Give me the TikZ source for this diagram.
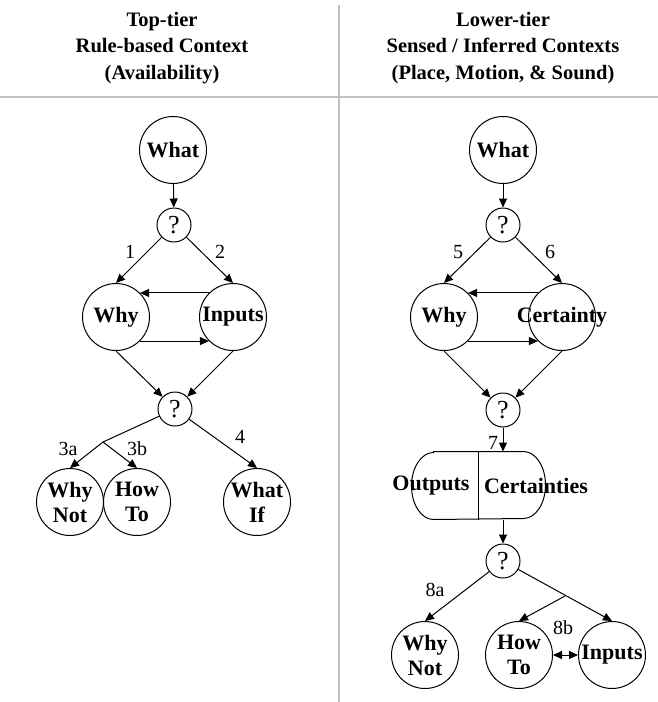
\documentclass[tikz,border=0pt]{standalone}
\usepackage{fontspec}
\setmainfont{Liberation Serif}
\usetikzlibrary{arrows.meta}
\definecolor{rulegray}{RGB}{192,192,192}

\tikzset{
  bubble/.style={shape=circle,draw=black,minimum size=67pt,inner sep=-4pt,align=center,font=\fontsize{22}{25}\selectfont\bfseries},
  query/.style={shape=circle,draw=black,minimum size=34pt,inner sep=0pt,font=\fontsize{26}{26}\selectfont},
  numlabel/.style={font=\fontsize{20}{20}\selectfont},
  header/.style={align=center,font=\fontsize{20.5}{26.5}\selectfont\bfseries},
  boldtext/.style={font=\fontsize{22}{25}\selectfont\bfseries},
}

\begin{document}
\begin{tikzpicture}[x=1pt,y=-1pt,line width=1pt,>={Triangle[length=9pt,width=8pt]}]
    \useasboundingbox (0,0) rectangle (658,702);
    % column frame
    \draw[rulegray,line width=2pt] (0,97) -- (658,97);
    \draw[rulegray,line width=2pt] (339,5) -- (339,702);
    \node[header] (headL) at (162,48) {Top-tier\\Rule-based Context\\(Availability)};
    \node[header] (headR) at (503,48) {Lower-tier\\Sensed / Inferred Contexts\\(Place, Motion, \& Sound)};

    % top-tier
    \node[bubble] (whatL) at (173,150) {What};
    \node[query] (qL1) at (174,225) {?};
    \node[bubble] (whyL) at (116,317) {Why};
    \node[bubble] (inputsL) at (233,317) {Inputs};
    \node[query] (qL2) at (175,409) {?};
    \coordinate (forkL) at (103,442);
    \node[bubble] (whynotL) at (70,502) {Why\\Not};
    \node[bubble] (howtoL) at (137,502) {How\\To};
    \node[bubble] (whatifL) at (257,502) {What\\If};
    \path[->] (whatL) edge (qL1);
    \path[->] (qL1) edge (whyL.north);
    \path[->] (qL1) edge (inputsL.north);
    \path[->] (inputsL.135) edge (whyL.45);
    \path[->] (whyL.-45) edge (inputsL.-135);
    \path[->] (whyL.south) edge (qL2);
    \path[->] (inputsL.south) edge (qL2);
    \draw (qL2) -- (forkL);
    \path[->] (forkL) edge (whynotL.north);
    \path[->] (forkL) edge (howtoL.north);
    \path[->] (qL2) edge (whatifL.north);
    \node[numlabel] (n1) at (130,252) {1};
    \node[numlabel] (n2) at (220,252) {2};
    \node[numlabel] (n3a) at (68,449) {3a};
    \node[numlabel] (n3b) at (137,449) {3b};
    \node[numlabel] (n4) at (240,437) {4};

    % lower-tier
    \node[bubble] (whatR) at (503,150) {What};
    \node[query] (qR1) at (503,225) {?};
    \node[bubble] (whyR) at (444,317) {Why};
    \node[bubble] (certR) at (562,317) {\makebox[0pt]{Certainty}};
    \node[query] (qR2) at (503,410) {?};
    \node[minimum width=133pt,minimum height=67pt] (outR) at (478.5,485.5) {};
    \draw ([xshift=22pt]outR.north west) -- ([xshift=-22pt]outR.north east)
        arc[start angle=90,end angle=-90,x radius=22pt,y radius=33.5pt]
        -- ([xshift=22pt]outR.south west)
        arc[start angle=270,end angle=90,x radius=22pt,y radius=33.5pt] -- cycle;
    \draw (outR.north) -- (outR.south);
    \node[boldtext] (outT) at (431,486) {Outputs};
    \node[boldtext] (certT) at (536,486) {Certainties};
    \node[query] (qR3) at (503,561) {?};
    \node[bubble] (whynotR) at (425,655) {Why\\Not};
    \node[bubble] (howtoR) at (519,655) {How\\To};
    \node[bubble] (inputsR) at (612,655) {Inputs};
    \coordinate (forkR) at (565,596);
    \path[->] (whatR) edge (qR1);
    \path[->] (qR1) edge (whyR.north);
    \path[->] (qR1) edge (certR.north);
    \path[->] (certR.135) edge (whyR.45);
    \path[->] (whyR.-45) edge (certR.-135);
    \path[->] (whyR.south) edge (qR2);
    \path[->] (certR.south) edge (qR2);
    \path[->] (qR2) edge (qR2 |- outR.north);
    \path[->] (qR2 |- outR.south) edge (qR3);
    \path[->] (qR3) edge (whynotR.north);
    \path[->] (qR3) edge (inputsR.north);
    \path[->] (forkR) edge (howtoR.north);
    \path[<->] (howtoR) edge (inputsR);
    \node[numlabel] (n5) at (458,252) {5};
    \node[numlabel] (n6) at (550,252) {6};
    \node[numlabel] (n7) at (493,443) {7};
    \node[numlabel] (n8a) at (435,590) {8a};
    \node[numlabel] (n8b) at (563,628) {8b};
\end{tikzpicture}
\end{document}
